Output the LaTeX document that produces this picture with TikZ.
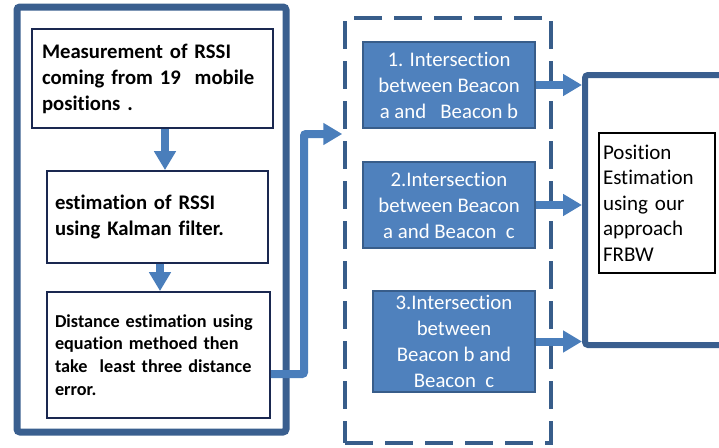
\documentclass[tikz,border=0pt]{standalone}
\usepackage{fontspec}
\setmainfont{Carlito}[Ligatures={NoCommon}]
\usetikzlibrary{arrows.meta}

\definecolor{framecol}{HTML}{3A5F8F}
\definecolor{arrowcol}{HTML}{4A7EBB}
\definecolor{stepfill}{HTML}{4F81BD}
\definecolor{stepline}{HTML}{385D8A}
\definecolor{navyline}{HTML}{1A2850}

\newcommand\stepbold{\fontsize{20.7}{26}\selectfont\bfseries}
\newcommand\smallbold{\fontsize{18.2}{22.7}\selectfont\bfseries}
\newcommand\steptext{\fontsize{20.8}{26}\selectfont}
\newcommand\restext{\fontsize{21}{25.4}\selectfont}

\begin{document}
\begin{tikzpicture}[x=1pt,y=-1pt,
  frame/.style={draw=framecol, line width=7pt, rounded corners=3pt},
  whitebox/.style={draw=navyline, line width=1.8pt, fill=white, inner xsep=8pt,
    align=left, text=black},
  bluebox/.style={draw=stepline, line width=1.5pt, fill=stepfill, text=white,
    align=center, font=\steptext, inner sep=2pt},
  arr/.style={draw=arrowcol, line width=8pt,
    -{Triangle[length=19pt,width=21pt]}},
  groupline/.style={draw=stepline, line width=3.5pt, dash pattern=on 28pt off 12pt}
]
\useasboundingbox (0,0) rectangle (719,447);

% left frame holding the preprocessing steps
\draw[frame] (17,7) rectangle (286,432);

\node[whitebox, inner xsep=10pt, minimum width=241pt, minimum height=99pt,
  text width=221pt, font=\stepbold] (m1) at (152.5,78.5)
  {Measurement of RSSI\\coming from 19\ \ mobile\\positions .};

\node[whitebox, minimum width=221pt, minimum height=92pt,
  text width=205pt, font=\stepbold] (m2) at (157.5,217)
  {estimation of RSSI\\using Kalman filter.};

\node[whitebox, minimum width=223pt, minimum height=126pt,
  text width=207pt, font=\smallbold] (m3) at (158.5,355)
  {Distance estimation using\\equation methoed then\\take\ \ least three distance\\error.};

\draw[arr] (m1.south -| 165,0) -- (m2.north -| 165,0);
\draw[arr] (m2.south -| 160,0) -- (m3.north -| 160,0);

% dashed group of intersections
\node[groupline, minimum width=206pt, minimum height=425pt, inner sep=0pt] (grp) at (448,230.5) {};

\node[bluebox, minimum width=172pt, minimum height=86pt] (ia) at (449,85)
  {1. Intersection\\between Beacon\\a and\ \ \ Beacon b};
\node[bluebox, minimum width=172pt, minimum height=86pt] (ib) at (449,205)
  {2.Intersection\\between Beacon\\a and Beacon\ \ c};
\node[bluebox, minimum width=162pt, minimum height=101pt] (ic) at (454,341.5)
  {3.Intersection\\between\\Beacon b and\\Beacon\ \ c};

\draw[arr, rounded corners=2pt, shorten >=1pt]
  ([yshift=-19pt]m3.east) -- (304,374) -- (304,134) -- (grp.west |- 0,134);

% right frame, open towards the page edge
\coordinate (rf) at (582,0);
\draw[frame, line width=6pt] (722,75) -- (585,75) -- (585,345) -- (722,345);

\node[draw=black, line width=1.5pt, fill=white, minimum width=116pt, minimum height=140pt,
  text width=108pt, inner xsep=4pt, align=left, font=\restext] (res) at (657,203)
  {Position\\Estimation\\using our\\approach\\FRBW};

\draw[arr] (ia.east) -- (ia.east -| rf);
\draw[arr] (ib.east) -- (ib.east -| rf);
\draw[arr] (ic.east) -- (ic.east -| rf);
\end{tikzpicture}
\end{document}
